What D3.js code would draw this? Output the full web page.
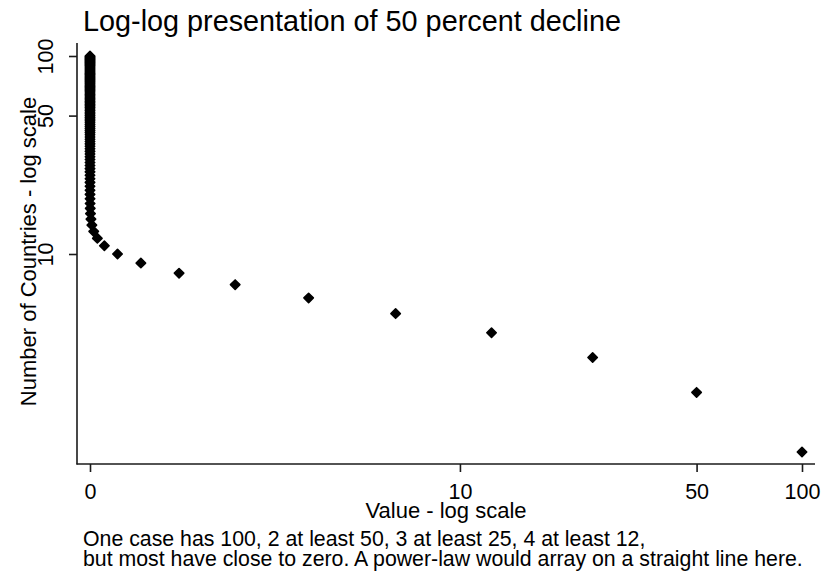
<!DOCTYPE html>
<html>
<head>
<meta charset="utf-8">
<script src="https://cdn.jsdelivr.net/npm/d3@7/dist/d3.min.js"></script>
<style>
  html, body { margin: 0; padding: 0; background: #fff; }
  svg { display: block; font-family: "Liberation Sans", Arial, sans-serif; }
</style>
</head>
<body>
<svg id="chart" width="835" height="573"></svg>
<script>
// Value held by each case after repeated 50 percent declines (largest first)
const values = [
  100, 50, 25, 12.5, 6.25, 3.125, 1.5625, 0.78125, 0.390625, 0.1953125,
  0.09765625, 0.048828125, 0.0244140625, 0.01220703125, 0.006103515625,
  0.0030517578125, 0.00152587890625, 0.000762939453125, 0.0003814697265625, 0.00019073486328125,
  0.0000953674, 0.0000476837, 0.0000238419, 0.0000119209, 0.0000059605,
  0.0000029802, 0.0000014901, 0.0000007451, 0.0000003725, 0.0000001863,
  0, 0, 0, 0, 0, 0, 0, 0, 0, 0,
  0, 0, 0, 0, 0, 0, 0, 0, 0, 0,
  0, 0, 0, 0, 0, 0, 0, 0, 0, 0,
  0, 0, 0, 0, 0, 0, 0, 0, 0, 0,
  0, 0, 0, 0, 0, 0, 0, 0, 0, 0,
  0, 0, 0, 0, 0, 0, 0, 0, 0, 0,
  0, 0, 0, 0, 0, 0, 0, 0, 0, 0
];
// Number of countries with at least that value
const countries = [
  1, 2, 3, 4, 5, 6, 7, 8, 9, 10,
  11, 12, 13, 14, 15, 16, 17, 18, 19, 20,
  21, 22, 23, 24, 25, 26, 27, 28, 29, 30,
  31, 32, 33, 34, 35, 36, 37, 38, 39, 40,
  41, 42, 43, 44, 45, 46, 47, 48, 49, 50,
  51, 52, 53, 54, 55, 56, 57, 58, 59, 60,
  61, 62, 63, 64, 65, 66, 67, 68, 69, 70,
  71, 72, 73, 74, 75, 76, 77, 78, 79, 80,
  81, 82, 83, 84, 85, 86, 87, 88, 89, 90,
  91, 92, 93, 94, 95, 96, 97, 98, 99, 100
];
const xTicks = [0, 10, 50, 100];
const yTicks = [10, 50, 100];

const titleText = "Log-log presentation of 50 percent decline";
const xTitle = "Value - log scale";
const yTitle = "Number of Countries - log scale";
const noteLines = [
  "One case has 100, 2 at least 50, 3 at least 25, 4 at least 12,",
  "but most have close to zero. A power-law would array on a straight line here."
];

const svg = d3.select("#chart");
const frame = { left: 77, right: 815, top: 43, bottom: 464 };

// log(value + 1) on the horizontal axis, log(count) on the vertical axis
const x = d3.scaleSymlog().constant(1).domain([0, 100]).range([90, 802]);
const y = d3.scaleLog().domain([1, 100]).range([452, 56]);

const ink = "#000";
const axisColor = "#1a1a1a";

// Title
svg.append("text")
  .attr("x", 83).attr("y", 31)
  .attr("font-size", 28.8)
  .attr("fill", ink)
  .text(titleText);

// Axis lines
svg.append("line")
  .attr("x1", frame.left).attr("x2", frame.left)
  .attr("y1", frame.top).attr("y2", frame.bottom + 0.5)
  .attr("stroke", axisColor).attr("stroke-width", 1.6);
svg.append("line")
  .attr("x1", frame.left - 0.5).attr("x2", frame.right)
  .attr("y1", frame.bottom).attr("y2", frame.bottom)
  .attr("stroke", axisColor).attr("stroke-width", 1.6);

// X axis ticks and labels
const xAxis = d3.axisBottom(x)
  .tickValues(xTicks)
  .tickFormat(d3.format("d"))
  .tickSize(8)
  .tickPadding(0);
const gx = svg.append("g")
  .attr("transform", `translate(0,${frame.bottom})`)
  .call(xAxis);
gx.select(".domain").remove();
gx.selectAll(".tick line").attr("stroke", axisColor).attr("stroke-width", 1.6);
gx.selectAll(".tick text")
  .attr("font-size", 21.5)
  .attr("font-family", "Liberation Sans, Arial, sans-serif")
  .attr("fill", ink)
  .attr("dy", null)
  .attr("y", 34.5);

// Y axis ticks and rotated labels
const yAxis = d3.axisLeft(y)
  .tickValues(yTicks)
  .tickFormat(d3.format("d"))
  .tickSize(8)
  .tickPadding(0);
const gy = svg.append("g")
  .attr("transform", `translate(${frame.left},0)`)
  .call(yAxis);
gy.select(".domain").remove();
gy.selectAll(".tick line").attr("stroke", axisColor).attr("stroke-width", 1.6);
gy.selectAll(".tick text")
  .attr("font-size", 21.5)
  .attr("font-family", "Liberation Sans, Arial, sans-serif")
  .attr("fill", ink)
  .attr("x", null).attr("dy", null)
  .attr("text-anchor", "middle")
  .attr("transform", "translate(-24,0) rotate(-90)");

// Axis titles
svg.append("text")
  .attr("x", (frame.left + frame.right) / 2).attr("y", 517.5)
  .attr("text-anchor", "middle")
  .attr("font-size", 22)
  .attr("fill", ink)
  .text(xTitle);
svg.append("text")
  .attr("transform", `translate(36,${(frame.top + frame.bottom) / 2 - 2}) rotate(-90)`)
  .attr("text-anchor", "middle")
  .attr("font-size", 22)
  .attr("fill", ink)
  .text(yTitle);

// Note under the chart
svg.append("g").selectAll("text")
  .data(noteLines)
  .join("text")
  .attr("x", 83)
  .attr("y", (d, i) => 546 + i * 20)
  .attr("font-size", 21.3)
  .attr("fill", ink)
  .text(d => d);

// Diamond markers
const pts = values.map((v, i) => ({ v, n: countries[i] }));
const r = 4.7;
svg.append("g").selectAll("path")
  .data(pts)
  .join("path")
  .attr("transform", d => `translate(${x(d.v)},${y(d.n)})`)
  .attr("d", `M0,${-r}L${r},0L0,${r}L${-r},0Z`)
  .attr("fill", ink)
  .attr("stroke", ink)
  .attr("stroke-width", 1.6)
  .attr("stroke-linejoin", "round");
</script>
</body>
</html>
